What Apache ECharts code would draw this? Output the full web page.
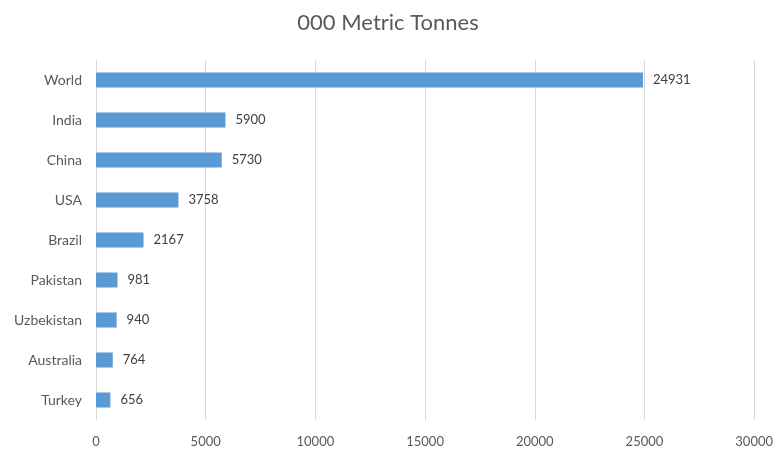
<!DOCTYPE html>
<html><head><meta charset="utf-8">
<script src="https://cdn.jsdelivr.net/npm/echarts@6/dist/echarts.min.js"></script>
<style>html,body{margin:0;padding:0;background:#fff}#c{width:776px;height:450px}</style>
</head><body><div id="c"></div>
<script>
const categories = ["World","India","China","USA","Brazil","Pakistan","Uzbekistan","Australia","Turkey"];
const values = [24931,5900,5730,3758,2167,981,940,764,656];
const titleText = "000 Metric Tonnes";
const xTicks = {min:0, max:30000, interval:5000};
const FONT = "Lato, 'Open Sans', sans-serif";
const chart = echarts.init(document.getElementById('c'));
chart.setOption({
  animation:false,
  title:{text:titleText, left:'center', top:7, textStyle:{fontFamily:FONT, fontSize:22, fontWeight:'normal', color:'#595959'}},
  grid:{left:96, right:19, top:60, bottom:30, containLabel:false},
  xAxis:{type:'value', min:xTicks.min, max:xTicks.max, interval:xTicks.interval,
    axisLine:{show:false}, axisTick:{show:false},
    axisLabel:{fontFamily:FONT, fontSize:13, color:'#595959', margin:15, formatter:v=>String(v)},
    splitLine:{lineStyle:{color:'#d9d9d9', width:1}}},
  yAxis:{type:'category', data:categories, inverse:true,
    axisLine:{show:false}, axisTick:{show:false},
    axisLabel:{fontFamily:FONT, fontSize:14, color:'#595959', margin:14}},
  series:[{type:'bar', data:values, barWidth:15,
    itemStyle:{color:'#5B9BD5'},
    label:{show:true, position:'right', distance:10, fontFamily:FONT, fontSize:13, color:'#404040'}}]
});
</script></body></html>
